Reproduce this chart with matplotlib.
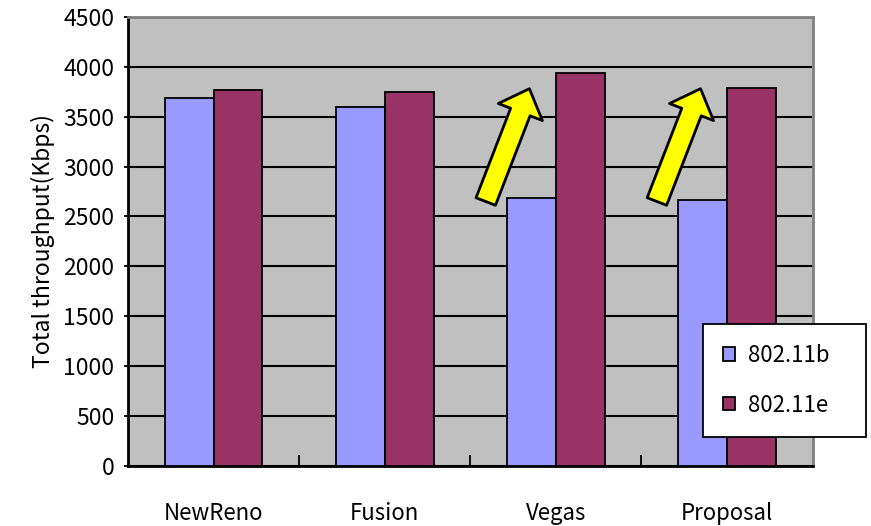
import numpy as np
import matplotlib.pyplot as plt
from matplotlib.patches import Patch

plt.rcParams['font.family'] = ['Noto Sans CJK JP', 'DejaVu Sans']

# 各方式のスループット
methods = ['NewReno', 'Fusion', 'Vegas', 'Proposal']
thr_11b = [3690, 3600, 2690, 2670]
thr_11e = [3770, 3750, 3940, 3790]
series_names = ['802.11b', '802.11e']

fig = plt.figure(figsize=(8.71, 5.26), dpi=100)
ax = fig.add_axes([0.147, 0.114, 0.786, 0.854])
ax.set_facecolor('#C0C0C0')

x = np.arange(len(methods))
w = 0.285
ax.bar(x - w / 2, thr_11b, w, color='#9999FF', edgecolor='black', lw=1.3, zorder=3)
ax.bar(x + w / 2, thr_11e, w, color='#993366', edgecolor='black', lw=1.3, zorder=3)

ax.set_xlim(-0.5, len(methods) - 0.5)
ax.set_ylim(0, 4500)
ax.set_yticks(np.arange(0, 4501, 500))
ax.yaxis.grid(True, color='black', lw=1.5, zorder=1)
ax.set_axisbelow(True)

# x軸の目盛りは項目の境目に内向き
ax.set_xticks(np.arange(0.5, len(methods) - 1, 1.0))
ax.set_xticks(x, minor=True)
ax.set_xticklabels(methods, minor=True)
ax.set_xticklabels([])
ax.tick_params(axis='x', which='major', direction='in', length=8, width=1.3)
ax.tick_params(axis='x', which='minor', length=0, pad=26, labelsize=16)
ax.tick_params(axis='y', direction='out', length=3, width=1.3, labelsize=16.5, pad=7)

ax.spines['left'].set_linewidth(2)
ax.spines['bottom'].set_linewidth(2)
for s in ['top', 'right']:
    ax.spines[s].set_color('#808080')
    ax.spines[s].set_linewidth(2)

ax.set_ylabel('Total throughput(Kbps)', fontsize=16.5, labelpad=6)

# 改善を示す黄色い矢印 (Vegas, Proposal)
for i in [2, 3]:
    ax.annotate('', xy=(i - 0.155, 3780), xytext=(i - 0.41, 2650),
                arrowprops=dict(arrowstyle='simple,head_length=1.8,head_width=3.4,tail_width=1.5',
                                mutation_scale=10, fc='yellow', ec='black', lw=2,
                                shrinkA=0, shrinkB=0), zorder=4)

handles = [Patch(facecolor='#9999FF', edgecolor='black', lw=1.3),
           Patch(facecolor='#993366', edgecolor='black', lw=1.3)]
leg = fig.legend(handles, series_names, loc='center',
                 bbox_to_anchor=(0.807, 0.163, 0.187, 0.228), mode='expand',
                 fancybox=False, framealpha=1, edgecolor='black', fontsize=16,
                 handlelength=0.55, handleheight=0.55, labelspacing=1.2,
                 borderpad=0.9, handletextpad=0.6, borderaxespad=0)
leg.get_frame().set_linewidth(1.3)
leg.set_zorder(10)

fig.savefig('out.png', dpi=100)
